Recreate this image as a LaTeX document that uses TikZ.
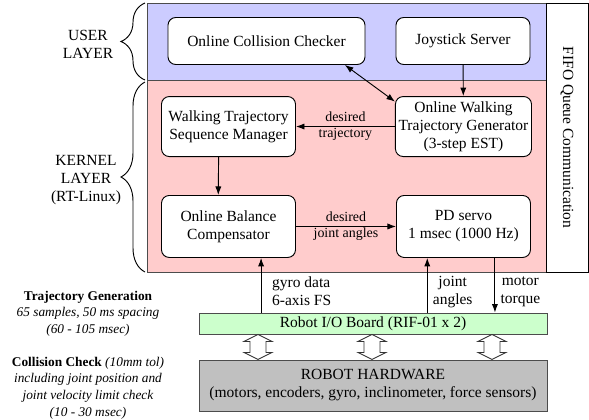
\documentclass[tikz,border=0pt]{standalone}
\usepackage{fontspec}
\setmainfont{Liberation Serif}
\usepackage{tikz}
\usetikzlibrary{arrows.meta,decorations.pathreplacing}
\definecolor{userblue}{RGB}{204,204,255}
\definecolor{kernelpink}{RGB}{255,204,204}
\definecolor{boardgreen}{RGB}{204,255,204}
\definecolor{hwgray}{RGB}{192,192,192}
\newlength\unitpx
\setlength\unitpx{0.645pt}

\begin{document}
\begin{tikzpicture}[x=0.645pt,y=-0.645pt,
   font=\fontsize{10}{11.6}\selectfont,
   every matrix/.style={ampersand replacement=\&,column sep=99\unitpx,row sep=38\unitpx},
   proc/.style={draw,semithick,rounded corners=5pt,fill=white,align=center,inner sep=2pt,minimum width=134\unitpx},
   to/.style={-{Latex[length=5.5pt,width=4pt]},semithick},
   both/.style={{Latex[length=5.5pt,width=4pt]}-{Latex[length=5.5pt,width=4pt]},semithick},
   lbl/.style={font=\fontsize{9}{10.3}\selectfont,align=center},
   sig/.style={align=center,pos=0.384,right},
   layer/.style={draw=black!70,semithick},
   bar/.style={draw=black!70,semithick,align=center},
   hollow/.style={draw=black!80,fill=white,semithick,line join=miter},
   layerbrace/.style={decorate,decoration={brace,amplitude=24\unitpx},semithick},
   note/.style={font=\fontsize{8.6}{10.7}\selectfont,align=center}]

\useasboundingbox (0,0) rectangle (589,419);

% layers
\draw[layer,fill=userblue] (147,3) rectangle (546,80);
\draw[layer,fill=kernelpink] (147,80) rectangle (546,272);
\draw[layer,draw=black] (546,3) rectangle (588,272);
\node[rotate=-90] (fifo) at (567,137.5) {FIFO Queue Communication};

\draw[layerbrace] (145,80) -- (145,3);
\draw[layerbrace] (145,272) -- (145,82);
\node[align=center] (user) at (88,44) {USER\\LAYER};
\node[align=center] (kernel) at (86,180) {KERNEL\\LAYER\\(RT-Linux)};

% processes
\node[proc,minimum width=197\unitpx,minimum height=47\unitpx] (occ) at (266.5,41) {Online Collision Checker};
\node[proc,minimum height=47\unitpx] (js) at (463,41) {Joystick Server};
\matrix at (346.5,177) {
\node[proc,minimum height=60\unitpx] (wtsm) {Walking Trajectory\\Sequence Manager};\&
\node[proc,minimum height=60\unitpx] (owtg) {Online Walking\\Trajectory Generator\\(3-step EST)};\\
\node[proc,minimum height=62\unitpx] (obc) {Online Balance\\Compensator};\&
\node[proc,minimum height=62\unitpx] (pd) {PD servo\\1 msec (1000 Hz)};\\
};

% hardware
\node[bar,fill=boardgreen,minimum width=348\unitpx,minimum height=21\unitpx,inner sep=0pt] (io) at (373,323.5) {Robot I/O Board (RIF-01 x 2)};
\node[bar,fill=hwgray,minimum width=348\unitpx,minimum height=51\unitpx] (hw) at (373,385.5) {ROBOT HARDWARE\\(motors, encoders, gyro, inclinometer, force sensors)};
\foreach \x in {258,372,492}
  \draw[hollow] (\x,0 |- io.south) -- ++(14,7) -- ++(-6,0) -- ++(0,11) -- ++(6,0)
    -- ++(-14,7) -- ++(-14,-7) -- ++(6,0) -- ++(0,-11) -- ++(-6,0) -- cycle;

\draw[to] (js) -- (owtg);
\draw[both] (occ.-17) -- (owtg.160);
\draw[to] (owtg) -- node[lbl] {desired\\trajectory} (wtsm);
\draw[to] (wtsm.-108) -- (obc.108);
\draw[to] (obc) -- node[lbl] {desired\\joint angles} (pd);
\draw[to] (obc.-44 |- io.north) -- node[sig,align=left,xshift=3.5pt] {gyro data\\6-axis FS} (obc.-44);
\draw[to] (pd.-139 |- io.north) -- node[sig] {joint\\angles} (pd.-139);
\draw[to] (pd.-45) -- node[sig,pos=0.616] {motor\\torque} (pd.-45 |- io.north);

% timing notes
\node[note] (trajnote) at (88,313.5) {\textbf{Trajectory Generation}\\\textit{65 samples, 50 ms spacing}\\\textit{(60 - 105 msec)}};
\node[note] (collnote) at (88,388) {\textbf{Collision Check} \textit{(10mm tol)}\\\textit{including joint position and}\\\textit{joint velocity limit check}\\\textit{(10 - 30 msec)}};
\end{tikzpicture}
\end{document}
